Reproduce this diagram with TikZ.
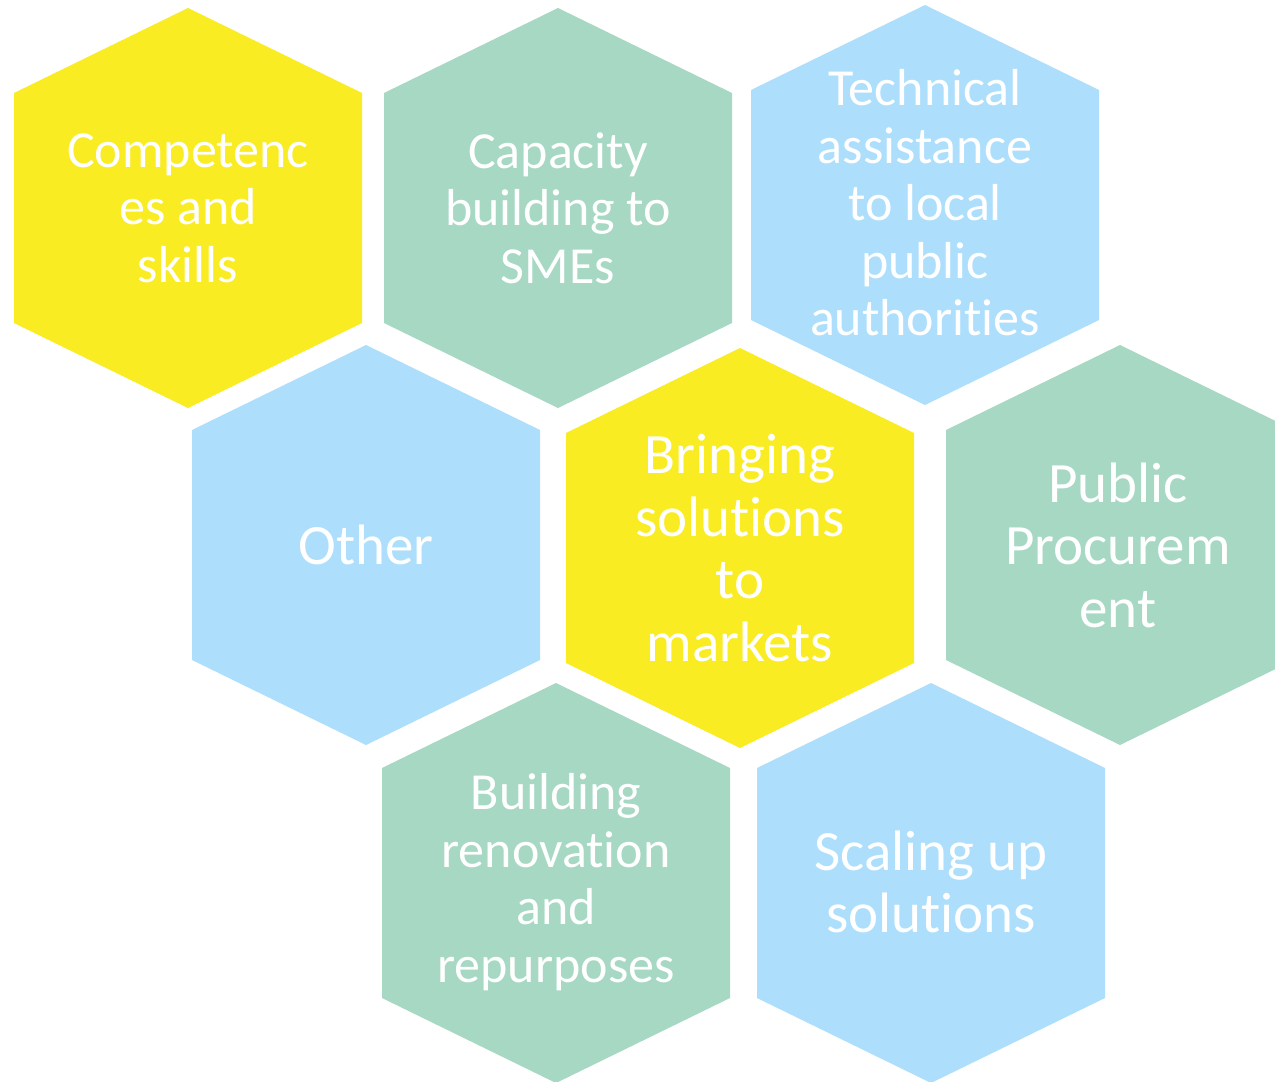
\documentclass[tikz,border=0pt]{standalone}
\usepackage{fontspec}
\setmainfont{Carlito}[Ligatures={TeX,NoCommon}]
\definecolor{hexyellow}{RGB}{249,236,35}
\definecolor{hexgreen}{RGB}{166,216,196}
\definecolor{hexblue}{RGB}{173,223,252}
\newcommand\hexcell[3]{%
  \fill[#3] (#1,#2) ++(0,-200) -- ++(174,85) -- ++(0,230) -- ++(-174,85) -- ++(-174,-85) -- ++(0,-230) -- cycle;}
\tikzset{
  smalltext/.style={text=white, align=center, font=\fontsize{52}{57.5}\selectfont, inner sep=0pt},
  bigtext/.style={text=white, align=center, font=\fontsize{57}{62.5}\selectfont, inner sep=0pt}
}
\begin{document}
\begin{tikzpicture}[x=1pt,y=-1pt]
\useasboundingbox (0,0) rectangle (1275,1082);
\clip (0,0) rectangle (1275,1082);
\fill[white] (0,0) rectangle (1275,1082);
\hexcell{188}{208}{hexyellow}
\hexcell{558}{208}{hexgreen}
\hexcell{925}{205}{hexblue}
\hexcell{366}{545}{hexblue}
\hexcell{740}{548}{hexyellow}
\hexcell{1120}{545}{hexgreen}
\hexcell{556}{883}{hexgreen}
\hexcell{931}{883}{hexblue}
\node[smalltext] (comp) at (188,208) {Competenc\\es and\\skills};
\node[smalltext] (cap) at (558,208) {Capacity\\building to\\SMEs};
\node[smalltext] (tech) at (925,203) {Technical\\assistance\\to local\\public\\authorities};
\node[bigtext] (other) at (366,545) {Other};
\node[bigtext] (bring) at (740,548) {Bringing\\solutions\\to\\markets};
\node[bigtext] (pub) at (1118,545) {Public\\Procurem\\ent};
\node[smalltext] (build) at (556,882) {Building\\renovation\\and\\repurposes};
\node[bigtext] (scale) at (931,882) {Scaling up\\solutions};
\end{tikzpicture}
\end{document}
